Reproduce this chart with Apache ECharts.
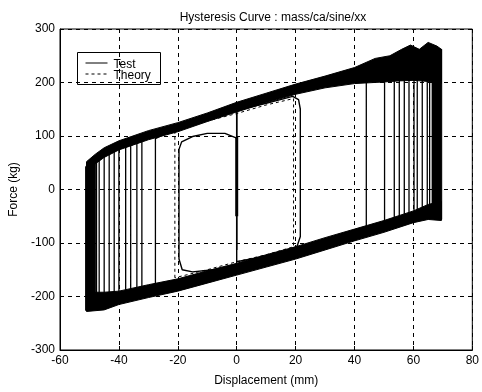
<!DOCTYPE html>
<html>
<head>
<meta charset="utf-8">
<script src="https://cdn.jsdelivr.net/npm/echarts@6/dist/echarts.min.js"></script>
<style>html,body{margin:0;padding:0;background:#fff}#c{width:482px;height:392px}</style>
</head>
<body>
<div id="c"></div>
<script>
// ---- data ----
const xTicks = [-60, -40, -20, 0, 20, 40, 60, 80];
const yTicks = [-300, -200, -100, 0, 100, 200, 300];
const legendNames = ['Test', 'Theory'];

// centre line of the upper and lower boundary traces (mm, kg)
const upperTrace = [[-45,68],[-40,82],[-30,101],[-20,116],[-10,135],[0,154],[10,171],[20,187],[30,200],[40,212],[50,222],[55,230],[60,235],[65,240]];
const lowerTrace = [[-45,-207],[-40,-202],[-30,-190],[-20,-178],[-10,-163],[0,-149],[10,-133],[20,-118],[30,-101],[40,-85],[50,-69],[60,-51],[65,-42]];

// dense overlapping trace envelopes
const upperBandTop = [[-51,52],[-48,66],[-45,78],[-40,91],[-30,110],[-20,125],[-10,143],[0,163],[10,180],[20,197],[30,212],[40,228],[47,245],[52,250],[56,262],[59,270],[62,262],[65,275],[68,268],[69.5,262]];
const upperBandBottom = [[69.5,198],[65,202],[60,204],[55,203],[50,201],[40,198],[30,190],[20,178],[10,162],[0,145],[-10,127],[-20,108],[-30,93],[-40,74],[-45,60],[-48,48],[-51,40]];
const lowerBandTop = [[-51,-192],[-45,-192],[-40,-190],[-30,-178],[-20,-167],[-10,-152],[0,-138],[10,-122],[20,-107],[30,-90],[40,-74],[50,-58],[60,-40],[65,-28],[69.5,-22]];
const lowerBandBottom = [[69.5,-58],[65,-56],[60,-62],[50,-80],[40,-96],[30,-113],[20,-130],[10,-145],[0,-160],[-10,-175],[-20,-190],[-30,-202],[-40,-215],[-45,-225],[-51,-228]];
const leftBlock = [[-51.3,-226],[-51.3,42],[-50,55],[-48,63],[-48,-220]];
const rightBlock = [[66.5,-48],[66.5,262],[69.6,262],[69.6,-56]];

// test loops: [xLeft, yLeftBottom, yLeftTop, xRight, yRightTop, yRightBottom]
const testLoops = [
  [-27.6,-196,95,44,203,-72],
  [-32.2,-198,90,50.2,205,-62],
  [-33.9,-200,86,53.5,205,-56],
  [-36,-203,82,55.2,206,-52],
  [-37.7,-205,79,56.9,206,-50],
  [-40,-208,76,58.5,206,-47],
  [-41.6,-210,72,60.2,206,-44],
  [-43.3,-212,68,61.3,206,-42],
  [-45,-214,64,63,205,-40],
  [-46.7,-216,60,64.7,205,-38],
  [-47.6,-217,58,65.5,204,-36],
  [-48.6,-218,55,66.4,204,-35],
  [-49.3,-219,52,67.2,203,-36],
  [-50,-220,50,68,202,-38],
  [-50.7,-221,48,69.2,200,-42]
];
// small inner test loops (traced points)
const innerLoopLeft = [[0,96],[-4,105],[-10,105],[-15,99],[-18.7,89],[-19.6,75],[-19.6,-130],[-18.5,-150],[-15,-154],[-8,-150],[0,-144]];
const innerLoopRight = [[0,-135],[0,148],[10,161],[19,174],[21,168],[21.6,150],[21.6,-88],[20.5,-106],[18,-113],[10,-124],[0,-135]];
const startLine = [[0,-113],[0,150]];
const startLineCore = [[0,-50],[0,98]];
// theory loop (dashed)
const theoryLoop = [[-21,-165],[-21,110],[-10,128],[0,142],[10,158],[19.3,170],[19.3,-107],[10,-122],[0,-135],[-10,-150],[-21,-165]];

// ---- build ----
function loopPath(L) {
  const [xl, ylb, ylt, xr, yrt, yrb] = L;
  const pts = [[xl, ylb], [xl, ylt]];
  upperTrace.forEach(p => { if (p[0] > xl && p[0] < xr) pts.push(p); });
  pts.push([xr, yrt], [xr, yrb]);
  lowerTrace.slice().reverse().forEach(p => { if (p[0] > xl && p[0] < xr) pts.push(p); });
  pts.push([xl, ylb]);
  return pts;
}
const polys = [upperBandTop.concat(upperBandBottom), lowerBandTop.concat(lowerBandBottom), leftBlock, rightBlock];

const FONT = 'Liberation Sans, Arial, sans-serif';
const series = [];
const lineBase = { type: 'line', symbol: 'none', silent: true, animation: false, z: 3 };
testLoops.forEach(L => series.push(Object.assign({}, lineBase, { name: 'Test', data: loopPath(L), lineStyle: { color: '#000', width: 1.3 } })));
[innerLoopLeft, innerLoopRight].forEach(d => series.push(Object.assign({}, lineBase, { name: 'Test', data: d, lineStyle: { color: '#000', width: 1.4 } })));
series.push(Object.assign({}, lineBase, { name: 'Test', data: startLine, lineStyle: { color: '#000', width: 1.5 } }));
series.push(Object.assign({}, lineBase, { name: 'Test', data: startLineCore, lineStyle: { color: '#000', width: 3 } }));
series.push({
  type: 'custom', silent: true, animation: false, z: 4,
  data: polys.map((p, i) => [i]),
  renderItem: function (params, api) {
    const pts = polys[params.dataIndex].map(p => api.coord(p));
    return { type: 'polygon', shape: { points: pts }, style: { fill: '#000', stroke: '#000', lineWidth: 1 } };
  }
});
series.push(Object.assign({}, lineBase, { name: 'Theory', data: theoryLoop, z: 5, lineStyle: { color: '#000', width: 1, type: [3, 3] } }));

const legendText = { fontFamily: FONT, fontSize: 12, fill: '#000' };
const chart = echarts.init(document.getElementById('c'), null, { renderer: 'canvas' });
chart.setOption({
  animation: false,
  backgroundColor: '#fff',
  title: {
    text: 'Hysteresis Curve : mass/ca/sine/xx',
    left: 268, top: 7, textAlign: 'center',
    textStyle: { fontFamily: FONT, fontSize: 12, fontWeight: 'normal', color: '#000' }
  },
  graphic: [{
    type: 'group', left: 77, top: 52, z: 100,
    children: [
      { type: 'rect', shape: { x: 0, y: 0, width: 83, height: 32 }, style: { fill: '#fff', stroke: '#000', lineWidth: 1 } },
      { type: 'line', shape: { x1: 8, y1: 10.5, x2: 30, y2: 10.5 }, style: { stroke: '#000', lineWidth: 1 } },
      { type: 'line', shape: { x1: 8, y1: 21.5, x2: 30, y2: 21.5 }, style: { stroke: '#000', lineWidth: 1, lineDash: [3, 3] } },
      { type: 'text', x: 36, y: 12, style: Object.assign({ text: legendNames[0], verticalAlign: 'middle' }, legendText) },
      { type: 'text', x: 36, y: 23, style: Object.assign({ text: legendNames[1], verticalAlign: 'middle' }, legendText) }
    ]
  }],
  grid: { left: 60, right: 5, top: 29, bottom: 42, show: true, borderColor: '#000', borderWidth: 1, backgroundColor: 'transparent' },
  xAxis: {
    type: 'value', min: xTicks[0], max: xTicks[xTicks.length - 1], interval: 20,
    name: 'Displacement (mm)', nameLocation: 'middle', nameGap: 25,
    nameTextStyle: { fontFamily: FONT, fontSize: 12, color: '#000' },
    axisLine: { show: true, onZero: false, lineStyle: { color: '#000', width: 1 } },
    axisTick: { show: true, inside: true, length: 4, lineStyle: { color: '#000' } },
    axisLabel: { fontFamily: FONT, fontSize: 12, color: '#000', margin: 5 },
    splitLine: { show: true, lineStyle: { color: '#000', width: 1, type: [4, 4] } }
  },
  yAxis: {
    type: 'value', min: yTicks[0], max: yTicks[yTicks.length - 1], interval: 100,
    name: 'Force (kg)', nameLocation: 'middle', nameGap: 32,
    nameTextStyle: { fontFamily: FONT, fontSize: 12, color: '#000' },
    axisLine: { show: true, onZero: false, lineStyle: { color: '#000', width: 1 } },
    axisTick: { show: true, inside: true, length: 4, lineStyle: { color: '#000' } },
    axisLabel: { fontFamily: FONT, fontSize: 12, color: '#000', margin: 5 },
    splitLine: { show: true, lineStyle: { color: '#000', width: 1, type: [4, 4] } }
  },
  series: series
});
</script>
</body>
</html>
